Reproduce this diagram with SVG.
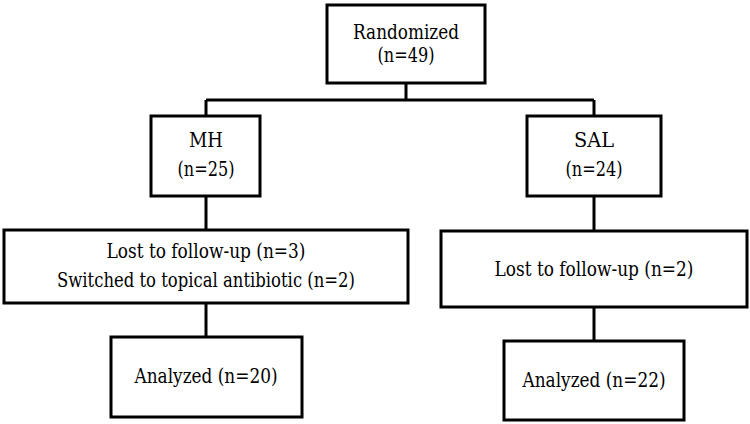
<svg xmlns="http://www.w3.org/2000/svg" width="750" height="424" viewBox="0 0 750 424">
<style>
.box{fill:#fff;stroke:#000;stroke-width:3}
.con{fill:none;stroke:#000;stroke-width:3}
text{font-family:"DejaVu Serif","Liberation Serif",serif;font-size:20px;fill:#000;text-anchor:middle}
</style>
<rect width="750" height="424" fill="#fff"/>
<g id="connectors">
<path class="con" d="M406 83 V100 M206 100 H594 M206 100 V116 M594 100 V116"/>
<path class="con" d="M206 196 V230 M594 196 V230"/>
<path class="con" d="M206 303 V337 M594 307 V341"/>
</g>
<g id="randomized">
<rect class="box" x="327" y="5" width="158" height="78"/>
<text x="406" y="39" textLength="106" lengthAdjust="spacingAndGlyphs">Randomized</text>
<text x="406" y="62" textLength="57" lengthAdjust="spacingAndGlyphs">(n=49)</text>
</g>
<g id="mh">
<rect class="box" x="151" y="116" width="109" height="80"/>
<text x="206" y="147" textLength="34" lengthAdjust="spacingAndGlyphs">MH</text>
<text x="206" y="176" textLength="57" lengthAdjust="spacingAndGlyphs">(n=25)</text>
</g>
<g id="sal">
<rect class="box" x="527" y="116" width="134" height="80"/>
<text x="594" y="147" textLength="40" lengthAdjust="spacingAndGlyphs">SAL</text>
<text x="594" y="176" textLength="57" lengthAdjust="spacingAndGlyphs">(n=24)</text>
</g>
<g id="mh-lost">
<rect class="box" x="4" y="230" width="404" height="73"/>
<text x="206" y="258" textLength="199" lengthAdjust="spacingAndGlyphs">Lost to follow-up (n=3)</text>
<text x="206" y="287" textLength="298" lengthAdjust="spacingAndGlyphs">Switched to topical antibiotic (n=2)</text>
</g>
<g id="sal-lost">
<rect class="box" x="441" y="231" width="306" height="76"/>
<text x="594" y="276" textLength="199" lengthAdjust="spacingAndGlyphs">Lost to follow-up (n=2)</text>
</g>
<g id="mh-analyzed">
<rect class="box" x="111" y="337" width="191" height="80"/>
<text x="206" y="383" textLength="143" lengthAdjust="spacingAndGlyphs">Analyzed (n=20)</text>
</g>
<g id="sal-analyzed">
<rect class="box" x="504" y="341" width="180" height="79"/>
<text x="594" y="387" textLength="143" lengthAdjust="spacingAndGlyphs">Analyzed (n=22)</text>
</g>
</svg>
